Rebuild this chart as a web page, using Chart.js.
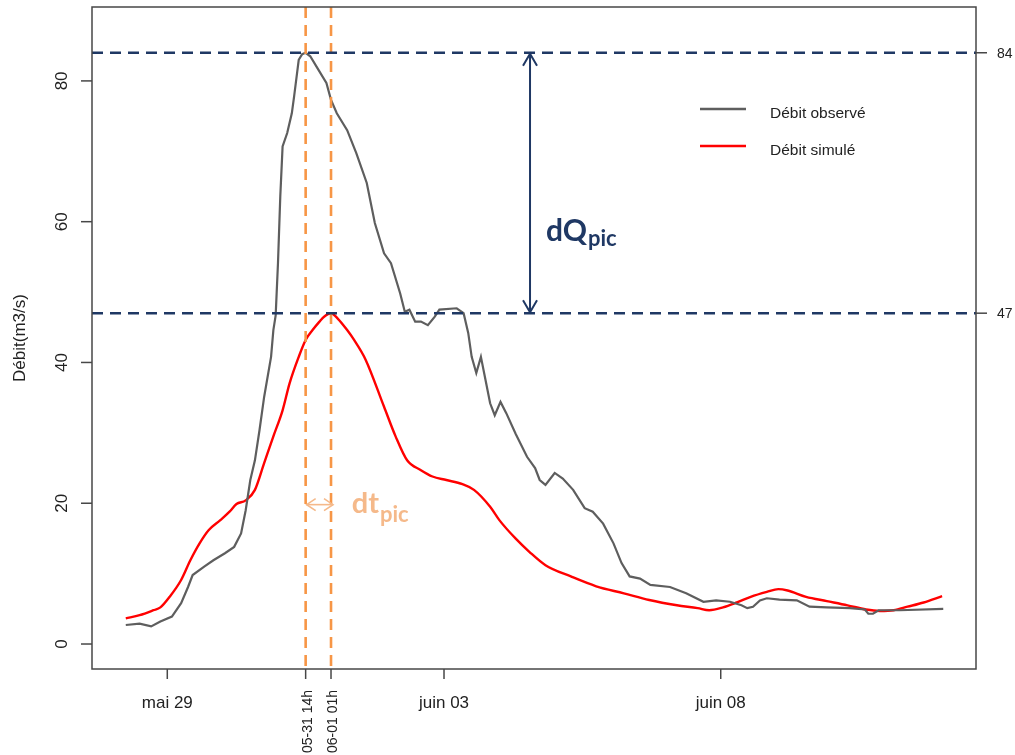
<!DOCTYPE html>
<html>
<head>
<meta charset="utf-8">
<script src="https://cdn.jsdelivr.net/npm/chart.js@4.4.1/dist/chart.umd.min.js"></script>
<style>
  html, body { margin: 0; padding: 0; background: #ffffff; }
  canvas { display: block; }
</style>
</head>
<body>
<canvas id="hydro" width="1015" height="755"></canvas>
<script>
// Time is expressed in hours from 29 May 00:00 (local time).
const obsHours = [-16, -10, -5, -1, 4, 8, 11, 13, 18, 22, 27, 31, 34, 36, 38, 40, 42, 44, 47, 48, 49,
  50, 51, 52, 54, 56, 57, 59, 60.5, 62, 64, 67.5, 71, 73, 75.5, 80, 84, 88.5, 92, 96, 99, 103, 105,
  107, 109.5, 112, 115, 118, 120, 127.5, 130.5, 132.5, 134, 136, 138, 140, 142, 144, 146.5, 149,
  153, 158, 161.5, 163.5, 166, 170, 173.5, 178, 183, 186.5, 191, 195.5, 199, 202.5, 207, 211.5,
  220, 227, 234.5, 240, 246, 251, 253.5, 256, 259, 262, 267.5, 275, 280.5, 288, 298, 304.5, 306,
  308, 310.5, 319.5, 338.5];
const obsValues = [2.7, 2.9, 2.5, 3.2, 3.9, 5.8, 8.1, 9.8, 11.0, 11.9, 12.9, 13.8, 15.7, 19.0, 23.3,
  26.1, 30.4, 35.1, 40.8, 44.6, 46.7, 54.1, 63.6, 70.7, 72.6, 75.4, 77.8, 83.0, 83.8, 84.0, 83.5,
  81.6, 79.7, 77.3, 75.4, 73.0, 69.7, 65.5, 59.8, 55.5, 54.1, 49.8, 47.2, 47.5, 45.8, 45.8, 45.3,
  46.5, 47.5, 47.7, 47.0, 44.2, 40.8, 38.5, 40.8, 37.5, 34.2, 32.5, 34.4, 32.8, 29.9, 26.6, 25.0,
  23.3, 22.6, 24.3, 23.5, 21.9, 19.3, 18.8, 17.1, 14.3, 11.5, 9.6, 9.3, 8.4, 8.1, 7.2, 6.0, 6.2,
  6.0, 5.5, 5.1, 5.3, 6.2, 6.5, 6.3, 6.2, 5.3, 5.2, 5.1, 4.9, 4.3, 4.3, 4.8, 4.8, 5.0];

const simHours = [-16, -10, -4, -1, 3, 8, 12, 16, 20, 25, 29, 32, 36, 40, 44, 48, 52, 55, 59, 62,
  65, 68, 70, 73, 76, 80, 83, 88, 96, 101, 106, 112, 117, 123, 130, 135, 142, 146, 153, 159, 166,
  177, 188, 200, 211, 223, 232, 237, 243, 249, 255, 262, 267, 271, 279, 288, 297, 305, 311, 317,
  323, 330, 338];
const simValues = [3.65, 4.1, 4.8, 5.2, 6.7, 9.1, 11.9, 14.3, 16.2, 17.6, 18.8, 19.9, 20.4, 21.9,
  25.7, 29.5, 33.2, 37.0, 40.8, 43.2, 44.6, 45.8, 46.5, 47.0, 46.2, 44.6, 43.2, 40.4, 33.7, 29.5,
  26.1, 24.7, 23.8, 23.3, 22.7, 21.9, 19.5, 17.6, 15.0, 13.1, 11.2, 9.6, 8.2, 7.2, 6.25, 5.5, 5.1,
  4.8, 5.2, 5.9, 6.7, 7.4, 7.8, 7.6, 6.7, 6.1, 5.5, 4.9, 4.7, 4.8, 5.3, 5.9, 6.8];

const seriesNames = ['Débit observé', 'Débit simulé'];
const dateTickHours = [2, 122, 242];
const dateTickLabels = ['mai 29', 'juin 03', 'juin 08'];
const peakTickHours = [62, 73];
const peakTickLabels = ['05-31 14h', '06-01 01h'];
const peakLevels = [84, 47];
const yTickValues = [0, 20, 40, 60, 80];
const yTitle = 'Débit(m3/s)';

const AXIS_INK = '#474747';
const NAVY = '#1F3864';
const ORANGE = '#F79646';
const PEACH = '#F5B98A';
const R_FONT = '"Liberation Sans", Arial, sans-serif';
const NOTE_FONT = 'Lato, "Open Sans", sans-serif';

function segment(ctx, x1, y1, x2, y2) {
  ctx.beginPath();
  ctx.moveTo(x1, y1);
  ctx.lineTo(x2, y2);
  ctx.stroke();
}

function openHead(ctx, tipX, tipY, dx, dy, len, half) {
  // dx,dy: unit direction the arrow points to
  const bx = tipX - dx * len, by = tipY - dy * len;
  const nx = -dy, ny = dx;
  ctx.beginPath();
  ctx.moveTo(bx + nx * half, by + ny * half);
  ctx.lineTo(tipX, tipY);
  ctx.lineTo(bx - nx * half, by - ny * half);
  ctx.stroke();
}

function subscripted(ctx, main, sub, x, y, mainSize, subSize, drop, color) {
  ctx.fillStyle = color;
  ctx.textAlign = 'left';
  ctx.textBaseline = 'alphabetic';
  ctx.font = `bold ${mainSize}px ${NOTE_FONT}`;
  ctx.fillText(main, x, y);
  const w = ctx.measureText(main).width;
  ctx.font = `bold ${subSize}px ${NOTE_FONT}`;
  ctx.fillText(sub, x + w + 1, y + drop);
}

const peakMarks = {
  id: 'peakMarks',
  afterDatasetsDraw(chart) {
    const { ctx, chartArea: a, scales: { x, y } } = chart;
    ctx.save();
    ctx.lineWidth = 2.6;
    ctx.setLineDash([11, 7]);

    // vertical dashed lines at the observed and simulated peak times
    ctx.strokeStyle = ORANGE;
    peakTickHours.forEach(h => {
      const px = x.getPixelForValue(h);
      segment(ctx, px, a.top, px, a.bottom);
    });

    // horizontal dashed lines at the two peak flows
    ctx.strokeStyle = NAVY;
    peakLevels.forEach(v => {
      const py = y.getPixelForValue(v);
      segment(ctx, a.left, py, a.right, py);
    });
    ctx.setLineDash([]);

    // dQ double arrow between the two peak levels
    const ax = x.getPixelForValue(159.3);
    const yTop = y.getPixelForValue(peakLevels[0]);
    const yBot = y.getPixelForValue(peakLevels[1]);
    ctx.strokeStyle = NAVY;
    ctx.lineWidth = 2;
    segment(ctx, ax, yTop + 1, ax, yBot - 1);
    openHead(ctx, ax, yTop + 1, 0, -1, 12, 7);
    openHead(ctx, ax, yBot - 1, 0, 1, 12, 7);
    subscripted(ctx, 'dQ', 'pic', x.getPixelForValue(166.2), y.getPixelForValue(57.2),
      30, 22, 5, NAVY);

    // dt double arrow between the two peak times
    const ay = y.getPixelForValue(19.8);
    const xl = x.getPixelForValue(peakTickHours[0]);
    const xr = x.getPixelForValue(peakTickHours[1]) + 3;
    ctx.strokeStyle = PEACH;
    ctx.lineWidth = 1.6;
    segment(ctx, xl + 1, ay, xr - 1, ay);
    openHead(ctx, xl + 1, ay, -1, 0, 9, 6);
    openHead(ctx, xr - 1, ay, 1, 0, 9, 6);
    subscripted(ctx, 'dt', 'pic', x.getPixelForValue(82.0), y.getPixelForValue(18.6),
      29, 22, 9, PEACH);
    ctx.restore();
  },

  afterDraw(chart) {
    const { ctx, chartArea: a, scales: { x, y } } = chart;
    ctx.save();
    ctx.strokeStyle = AXIS_INK;
    ctx.fillStyle = '#222222';
    ctx.lineWidth = 1.5;

    // plot frame
    ctx.strokeRect(a.left, a.top, a.right - a.left, a.bottom - a.top);

    // left axis ticks and rotated labels
    ctx.font = `17px ${R_FONT}`;
    yTickValues.forEach(v => {
      const py = y.getPixelForValue(v);
      segment(ctx, a.left - 11, py, a.left, py);
      ctx.save();
      ctx.translate(a.left - 25, py);
      ctx.rotate(-Math.PI / 2);
      ctx.textAlign = 'center';
      ctx.textBaseline = 'alphabetic';
      ctx.fillText(String(v), 0, 0);
      ctx.restore();
    });

    // axis title
    ctx.save();
    ctx.translate(25, (a.top + a.bottom) / 2);
    ctx.rotate(-Math.PI / 2);
    ctx.textAlign = 'center';
    ctx.textBaseline = 'alphabetic';
    ctx.fillText(yTitle, 0, 0);
    ctx.restore();

    // bottom axis: date ticks
    ctx.textAlign = 'center';
    ctx.textBaseline = 'alphabetic';
    dateTickHours.forEach((h, i) => {
      const px = x.getPixelForValue(h);
      segment(ctx, px, a.bottom, px, a.bottom + 10);
      ctx.fillText(dateTickLabels[i], px, a.bottom + 39);
    });

    // bottom axis: peak-time ticks with vertical labels
    ctx.font = `14px ${R_FONT}`;
    peakTickHours.forEach((h, i) => {
      const px = x.getPixelForValue(h);
      segment(ctx, px, a.bottom, px, a.bottom + 10);
      ctx.save();
      ctx.translate(px + 2, a.bottom + 21);
      ctx.rotate(-Math.PI / 2);
      ctx.textAlign = 'right';
      ctx.textBaseline = 'middle';
      ctx.fillText(peakTickLabels[i], 0, 0);
      ctx.restore();
    });

    // right axis: peak levels
    ctx.textAlign = 'left';
    ctx.textBaseline = 'middle';
    peakLevels.forEach(v => {
      const py = y.getPixelForValue(v);
      segment(ctx, a.right, py, a.right + 11, py);
      ctx.fillText(String(v), a.right + 21, py + 1);
    });

    // legend
    const ds = chart.data.datasets;
    ctx.font = `15.5px ${R_FONT}`;
    ctx.textBaseline = 'alphabetic';
    [109, 146].forEach((ly, i) => {
      ctx.strokeStyle = ds[i].borderColor;
      ctx.lineWidth = 2.4;
      segment(ctx, 700, ly, 746, ly);
      ctx.fillStyle = '#222222';
      ctx.fillText(ds[i].label, 770, ly + 9);
    });
    ctx.restore();
  }
};

new Chart(document.getElementById('hydro'), {
  type: 'line',
  data: {
    datasets: [
      {
        label: seriesNames[0],
        data: obsHours.map((h, i) => ({ x: h, y: obsValues[i] })),
        borderColor: '#5e5e5e',
        borderWidth: 2.2,
        pointRadius: 0,
        tension: 0
      },
      {
        label: seriesNames[1],
        data: simHours.map((h, i) => ({ x: h, y: simValues[i] })),
        borderColor: '#ff0000',
        borderWidth: 2.4,
        pointRadius: 0,
        cubicInterpolationMode: 'monotone'
      }
    ]
  },
  options: {
    responsive: false,
    animation: false,
    devicePixelRatio: 1,
    layout: { padding: { left: 92, right: 39, top: 7, bottom: 86 } },
    plugins: { legend: { display: false }, tooltip: { enabled: false } },
    scales: {
      x: { type: 'linear', min: -30.65, max: 352.7, display: false },
      y: { type: 'linear', min: -3.55, max: 90.5, display: false }
    }
  },
  plugins: [peakMarks]
});
</script>
</body>
</html>
